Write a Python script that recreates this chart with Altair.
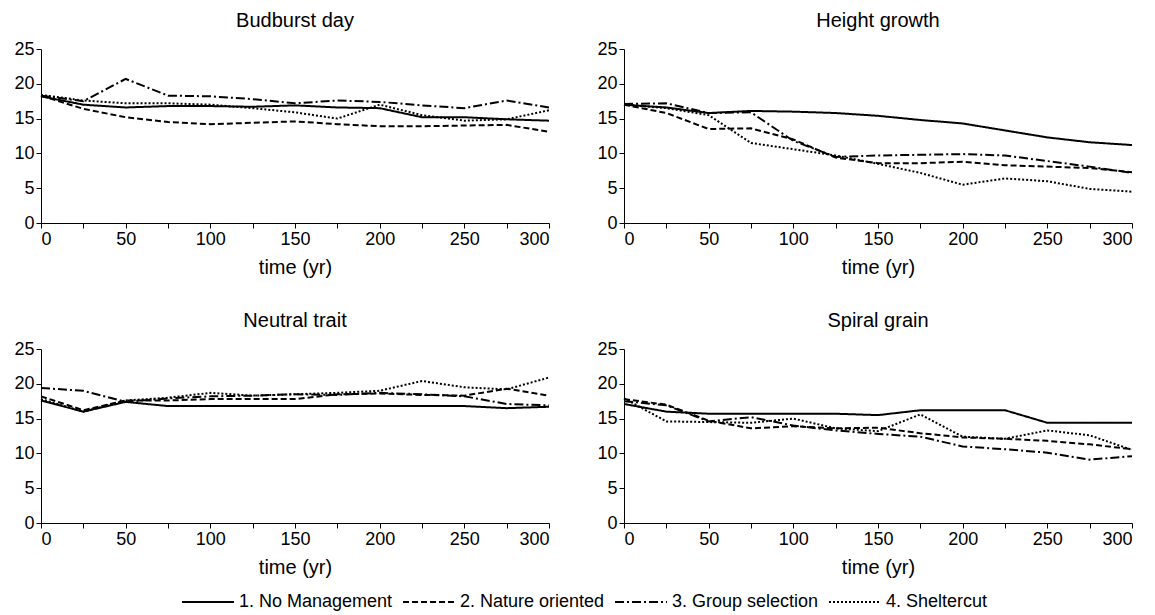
import altair as alt
import pandas as pd

years = [0, 25, 50, 75, 100, 125, 150, 175, 200, 225, 250, 275, 300]
scenarios = ["1. No Management", "2. Nature oriented", "3. Group selection", "4. Sheltercut"]
panel_titles = ["Budburst day", "Height growth", "Neutral trait", "Spiral grain"]

# Budburst day
bud_1 = [18.2, 17.0, 16.6, 16.8, 16.8, 16.7, 16.9, 16.6, 16.5, 15.2, 15.2, 14.9, 14.7]
bud_2 = [18.3, 16.4, 15.2, 14.5, 14.2, 14.4, 14.6, 14.2, 13.9, 13.9, 14.0, 14.1, 13.1]
bud_3 = [18.3, 17.5, 20.7, 18.3, 18.2, 17.8, 17.2, 17.6, 17.4, 16.9, 16.5, 17.6, 16.6]
bud_4 = [18.4, 17.6, 17.2, 17.2, 17.0, 16.5, 15.9, 15.0, 17.0, 15.5, 14.7, 14.9, 16.2]

# Height growth
hgt_1 = [17.0, 16.6, 15.8, 16.1, 16.0, 15.8, 15.4, 14.8, 14.3, 13.3, 12.3, 11.6, 11.2]
hgt_2 = [17.0, 15.8, 13.5, 13.6, 12.0, 9.4, 8.6, 8.6, 8.8, 8.3, 8.1, 7.9, 7.3]
hgt_3 = [17.1, 17.2, 15.8, 15.9, 11.8, 9.5, 9.7, 9.8, 9.9, 9.7, 8.9, 8.1, 7.2]
hgt_4 = [17.0, 16.5, 15.5, 11.5, 10.6, 9.7, 8.5, 7.2, 5.5, 6.4, 6.0, 4.9, 4.5]

# Neutral trait
neu_1 = [17.6, 16.0, 17.4, 16.8, 16.8, 16.8, 16.8, 16.8, 16.8, 16.8, 16.8, 16.5, 16.7]
neu_2 = [18.2, 16.2, 17.6, 17.6, 17.8, 17.8, 17.8, 18.5, 18.6, 18.4, 18.3, 19.3, 18.3]
neu_3 = [19.4, 19.0, 17.4, 17.9, 18.2, 18.3, 18.5, 18.4, 18.7, 18.5, 18.2, 17.1, 16.9]
neu_4 = [17.8, 16.0, 17.6, 18.0, 18.7, 18.3, 18.5, 18.7, 19.0, 20.4, 19.5, 19.2, 20.9]

# Spiral grain
spi_1 = [17.1, 16.0, 15.7, 15.7, 15.7, 15.7, 15.5, 16.2, 16.2, 16.2, 14.4, 14.4, 14.4]
spi_2 = [17.8, 17.0, 14.7, 13.6, 13.9, 13.6, 13.7, 12.9, 12.3, 12.1, 11.8, 11.3, 10.6]
spi_3 = [17.5, 16.9, 14.6, 15.2, 14.0, 13.3, 12.8, 12.4, 11.0, 10.6, 10.1, 9.1, 9.6]
spi_4 = [17.9, 14.6, 14.5, 14.4, 15.0, 13.6, 13.2, 15.6, 12.4, 12.1, 13.3, 12.6, 10.5]

panel_series = {
    "Budburst day": [bud_1, bud_2, bud_3, bud_4],
    "Height growth": [hgt_1, hgt_2, hgt_3, hgt_4],
    "Neutral trait": [neu_1, neu_2, neu_3, neu_4],
    "Spiral grain": [spi_1, spi_2, spi_3, spi_4],
}

dash_range = [[1, 0], [6, 3], [9, 3, 2, 3], [2, 2]]
FONT = "Liberation Sans"


def make_panel(title, show_legend):
    rows = []
    for name, vals in zip(scenarios, panel_series[title]):
        for yr, v in zip(years, vals):
            rows.append({"scenario": name, "year": yr, "value": v})
    df = pd.DataFrame(rows)
    legend = None
    if show_legend:
        legend = alt.Legend(
            title=None,
            orient="none",
            direction="horizontal",
            legendX=140,
            legendY=526,
            symbolType="stroke",
            symbolStrokeColor="black",
            symbolStrokeWidth=1.8,
            symbolSize=2700,
            labelFontSize=18,
            labelFont=FONT,
            labelColor="black",
            labelOffset=4,
            columnPadding=6,
        )
    return alt.Chart(df).mark_line(color="black", strokeWidth=2).encode(
        x=alt.X(
            "year:Q",
            scale=alt.Scale(domain=[0, 300], nice=False),
            axis=alt.Axis(
                values=years,
                labelExpr="datum.value % 50 == 0 ? datum.label : ''",
                title="time (yr)",
                grid=False,
            ),
        ),
        y=alt.Y(
            "value:Q",
            scale=alt.Scale(domain=[0, 25], nice=False),
            axis=alt.Axis(values=[0, 5, 10, 15, 20, 25], title=None, grid=False),
        ),
        strokeDash=alt.StrokeDash(
            "scenario:N",
            scale=alt.Scale(domain=scenarios, range=dash_range),
            legend=legend,
        ),
        order="year:Q",
    ).properties(width=508, height=174, title=title)


panels = [make_panel(t, i == 0) for i, t in enumerate(panel_titles)]

chart = alt.concat(
    *panels,
    columns=2,
    spacing={"row": 126, "column": 75},
    bounds="flush",
).properties(
    padding={"left": 13, "top": 11, "right": 2, "bottom": 2}
).configure(
    font=FONT,
).configure_view(
    stroke=None
).configure_axis(
    labelFontSize=18,
    labelColor="black",
    labelFont=FONT,
    titleFontSize=20,
    titleFontWeight="normal",
    titleColor="black",
    titleFont=FONT,
    titlePadding=9,
    domainColor="black",
    tickColor="black",
    tickSize=5,
    labelPadding=2,
).configure_title(
    fontSize=20,
    fontWeight="normal",
    font=FONT,
    color="black",
    offset=9,
)

chart.save("out.html", embed_options={"renderer": "svg", "actions": False})
